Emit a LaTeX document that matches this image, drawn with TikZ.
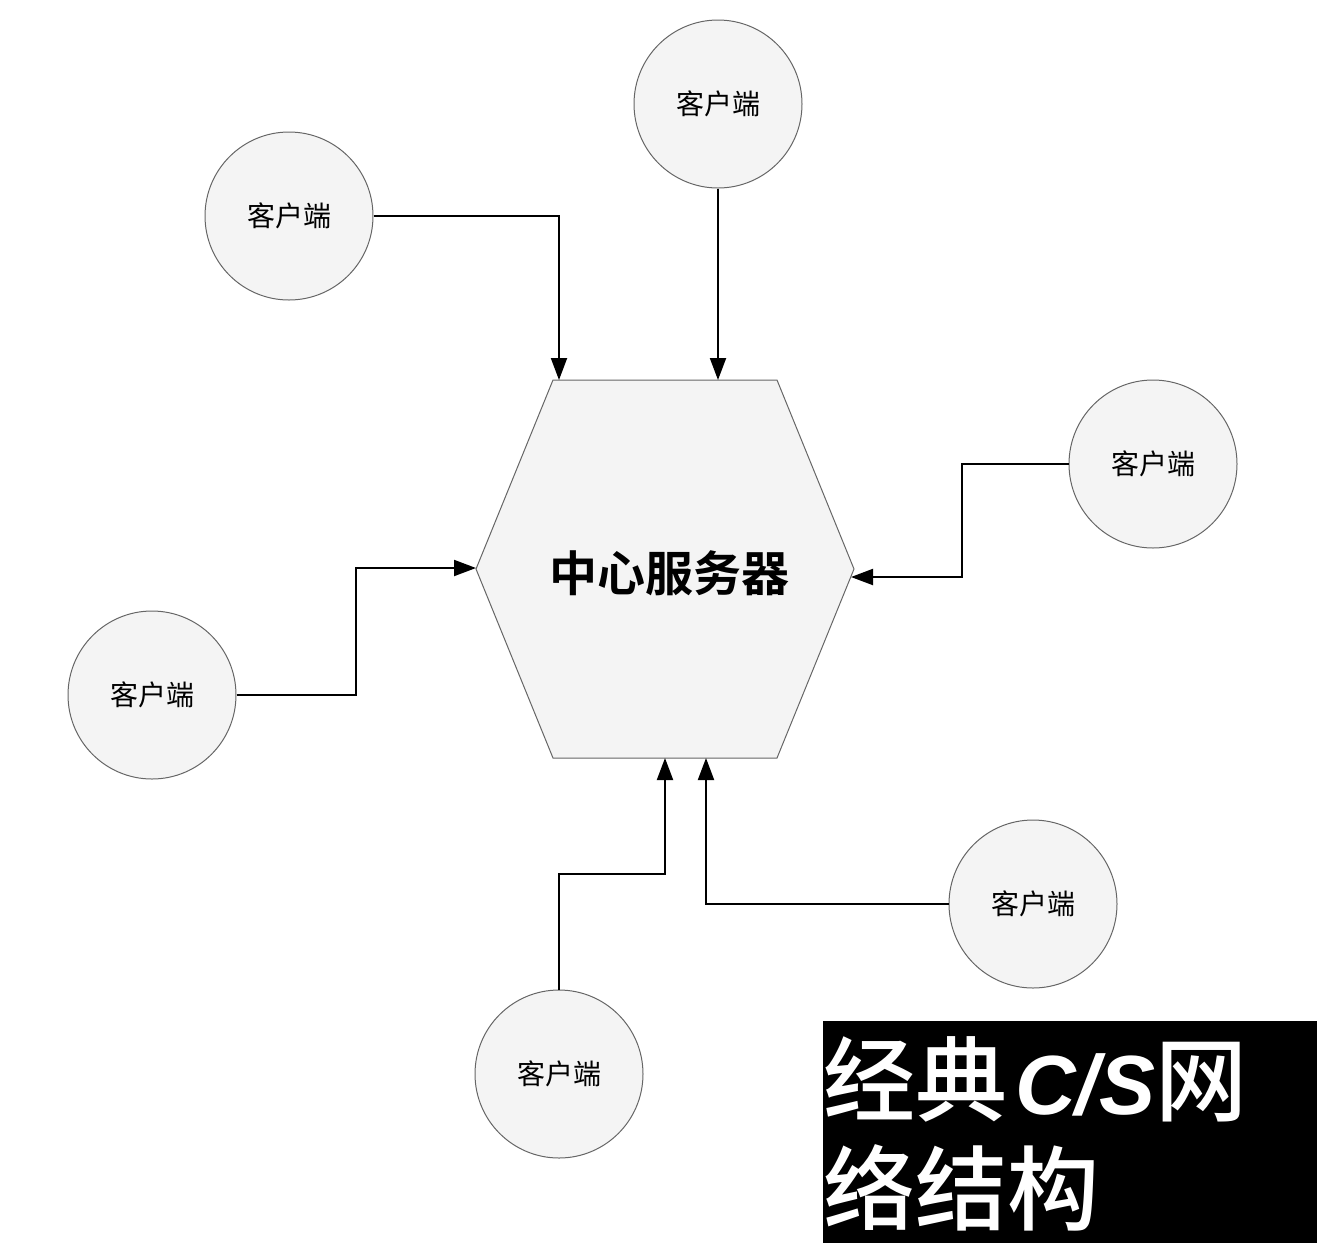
\documentclass[tikz,border=0pt]{standalone}
\usepackage{fontspec}
\newfontfamily\cjk{Noto Sans CJK SC}
\newfontfamily\cjkbold{Noto Sans CJK SC Bold}
\newfontfamily\cjkmed{Noto Sans CJK SC Medium}
\newfontfamily\lat{Liberation Sans}
\usetikzlibrary{arrows.meta}
\definecolor{shapefill}{HTML}{F4F4F4}
\definecolor{shapeline}{HTML}{666666}
\tikzset{
  client/.style={circle, draw=shapeline, fill=shapefill, line width=1pt,
    minimum size=168pt, inner sep=0pt, font=\cjk\fontsize{28}{34}\selectfont},
  hexshape/.style={draw=shapeline, fill=shapefill, line width=1pt},
  link/.style={line width=2pt, -{Triangle[length=22pt,width=16pt]}},
  titletext/.style={anchor=base west, text=white, inner sep=0pt,
    font=\cjkmed\fontsize{92}{110}\selectfont},
}
\begin{document}
\begin{tikzpicture}[x=1pt,y=-1pt]
\useasboundingbox (0,0) rectangle (1344,1254);
% server hexagon
\draw[hexshape] (553,380) -- (777,380) -- (854,569) -- (777,758) -- (553,758) -- (476,569) -- cycle;
\node[font=\cjkbold\fontsize{48}{58}\selectfont, inner sep=0pt] (srv) at (669,573) {中心服务器};
% connection points on the hexagon
\coordinate (h1) at (559,380);
\coordinate (h2) at (718,380);
\coordinate (h3) at (851,577);
\coordinate (h4) at (476,568);
\coordinate (h5) at (665,758);
\coordinate (h6) at (706,758);
% bend points
\coordinate (k3) at (962,577);
\coordinate (k4) at (356,568);
\coordinate (k5) at (665,874);
% clients
\node[client] (A) at (289,216) {客户端};
\node[client] (B) at (718,104) {客户端};
\node[client] (C) at (1153,464) {客户端};
\node[client] (D) at (152,695) {客户端};
\node[client] (E) at (1033,904) {客户端};
\node[client] (F) at (559,1074) {客户端};
% connectors
\draw[link] (A.east) -| (h1);
\draw[link] (B.south) -- (h2);
\draw[link] (C.west) -| (k3) -- (h3);
\draw[link] (D.east) -| (k4) -- (h4);
\draw[link] (F.north) |- (k5) -- (h5);
\draw[link] (E.west) -| (h6);
% title box
\node[fill=black, anchor=north west, minimum width=494pt, minimum height=222pt, inner sep=0pt] (tbox) at (823,1021) {};
\node[titletext] (t1) at (823,1114) {经典\hspace{8pt}{\lat\bfseries\itshape\fontsize{84}{84}\selectfont C/S}网};
\node[titletext] (t2) at (823,1223) {络结构};
\end{tikzpicture}
\end{document}
